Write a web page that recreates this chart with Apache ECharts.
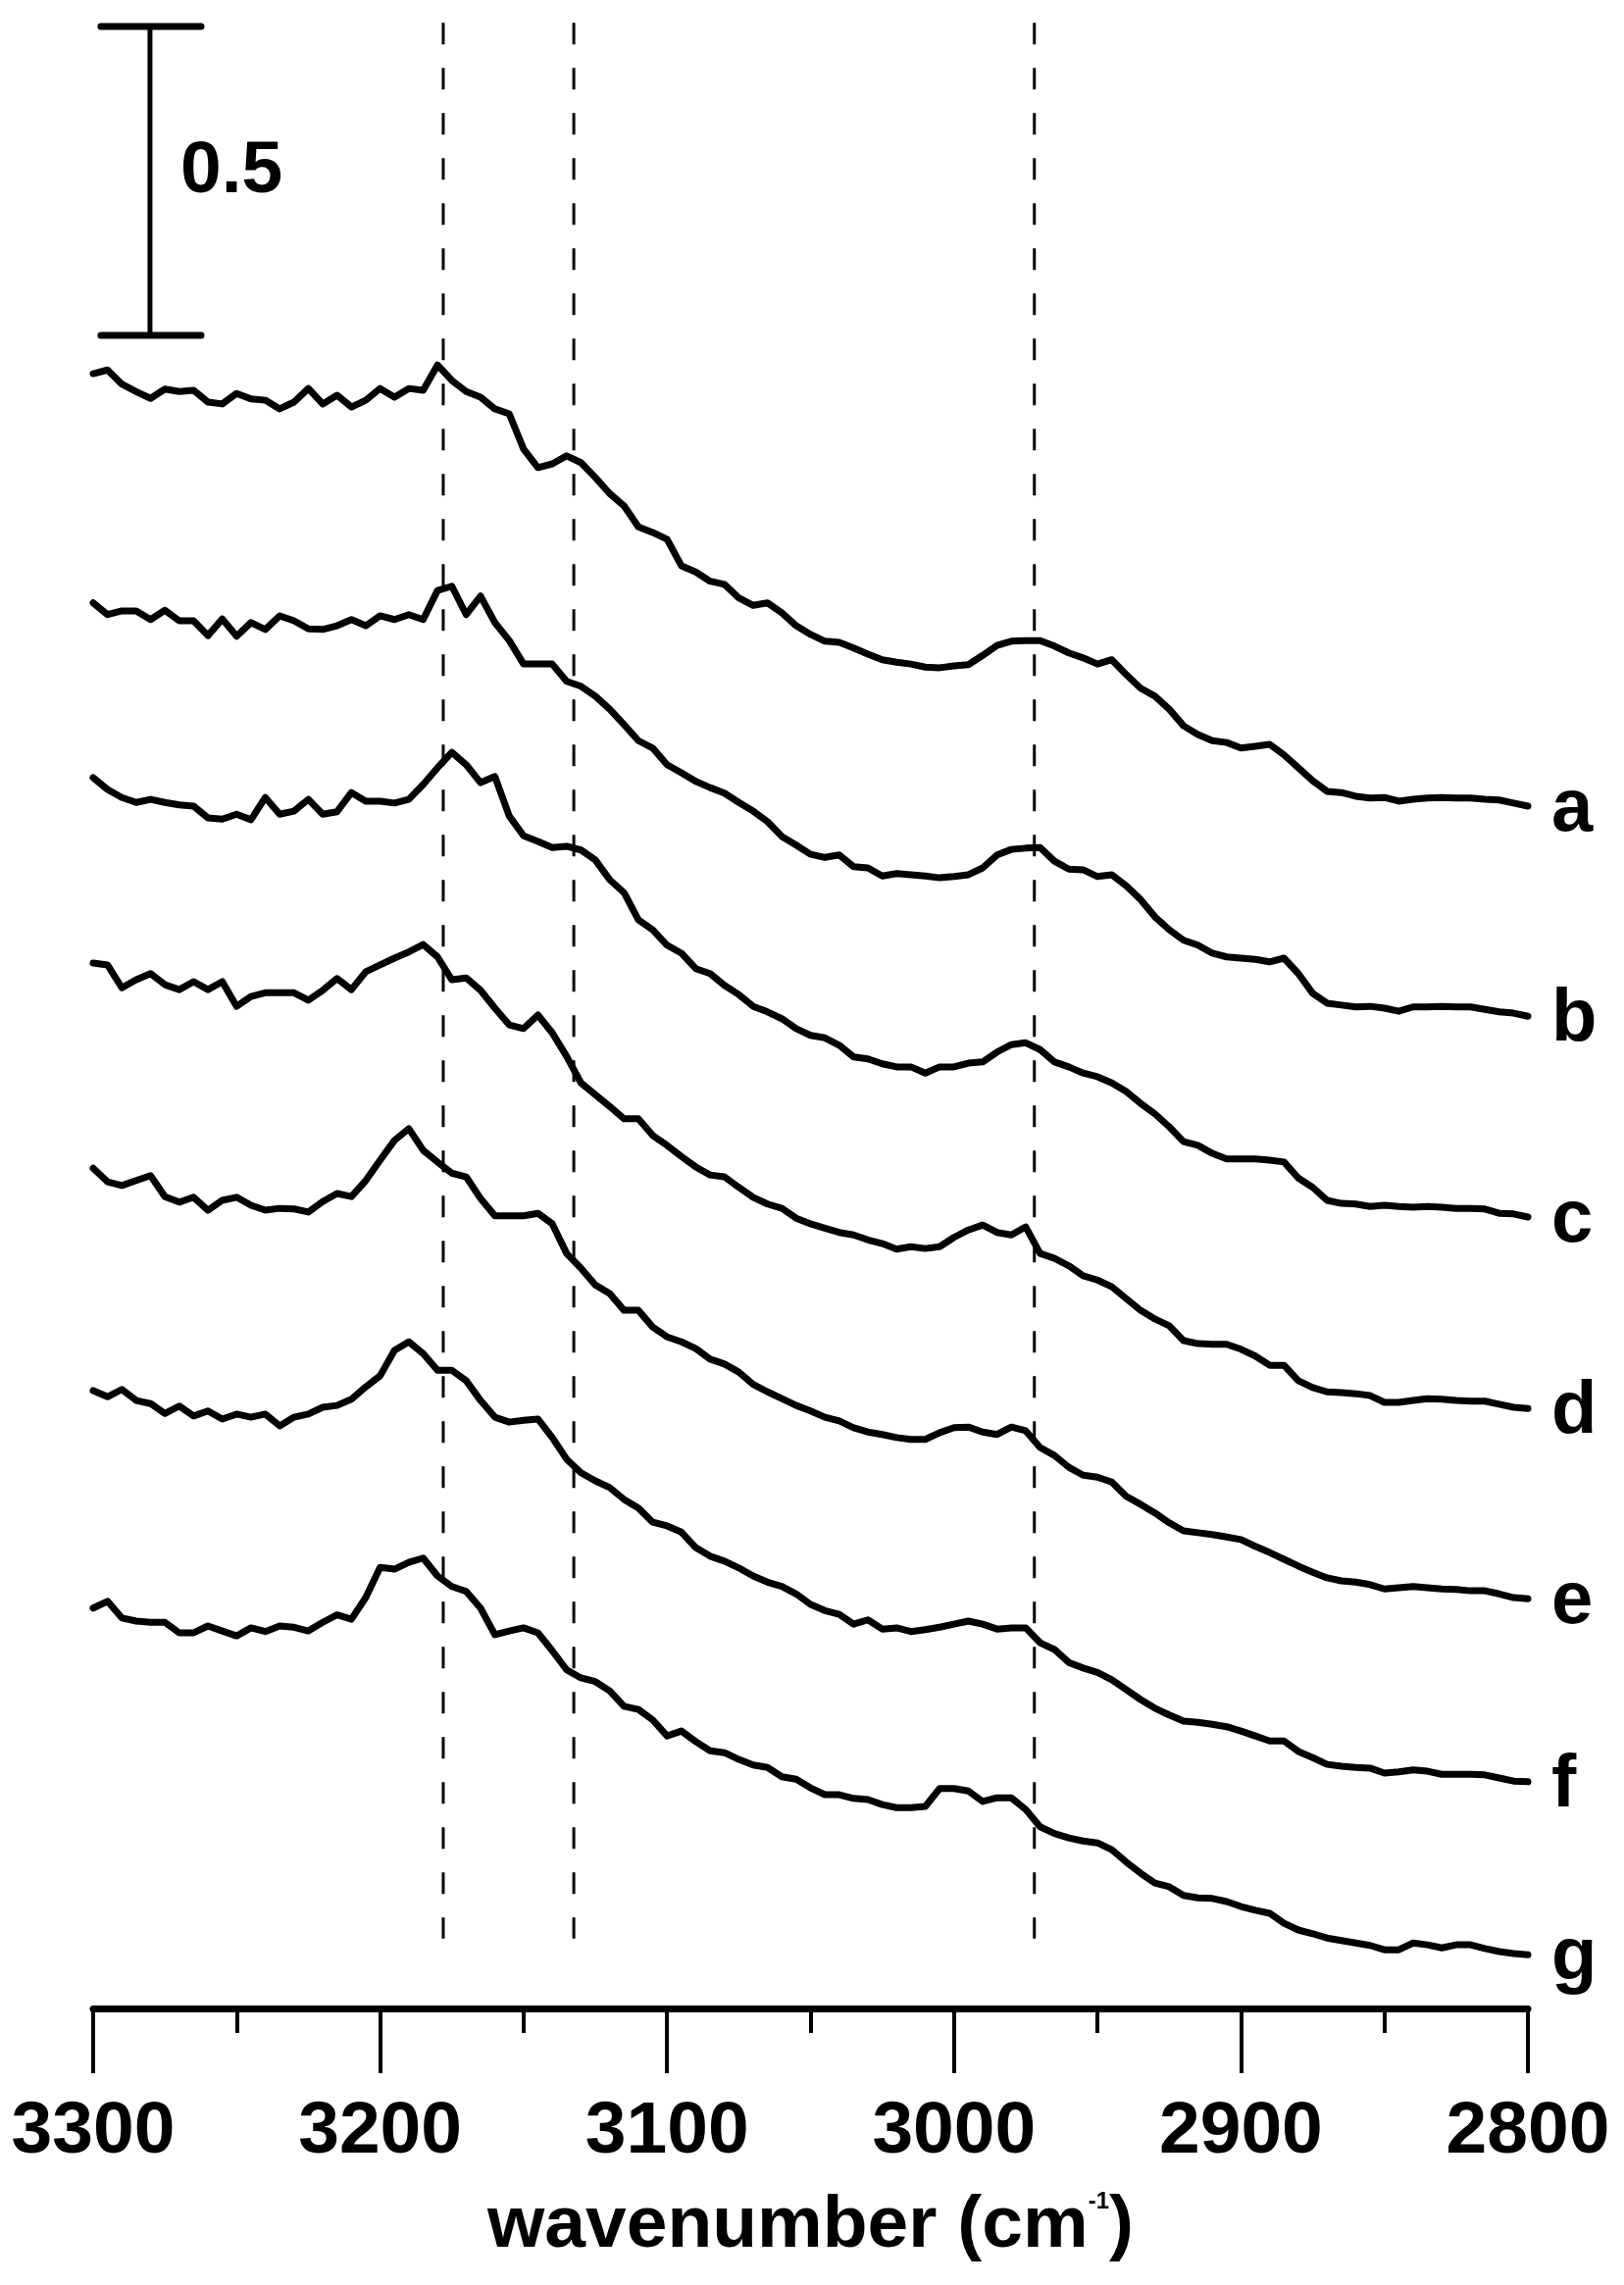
<!DOCTYPE html>
<html>
<head>
<meta charset="utf-8">
<script src="https://cdn.jsdelivr.net/npm/echarts@6/dist/echarts.min.js"></script>
<style>
    html, body { margin: 0; padding: 0; background: #fff; }
    #chart { width: 1656px; height: 2330px; }
</style>
</head>
<body>
<div id="chart"></div>
<script>
// wavenumber grid (cm-1), shared by all traces
const wavenumber = [
    3300, 3295, 3290, 3285, 3280, 3275, 3270, 3265, 3260, 3255, 3250, 3245, 3240, 3235, 3230, 3225, 3220, 3215, 3210, 3205, 3200,
    3195, 3190, 3185, 3180, 3175, 3170, 3165, 3160, 3155, 3150, 3145, 3140, 3135, 3130, 3125, 3120, 3115, 3110, 3105, 3100,
    3095, 3090, 3085, 3080, 3075, 3070, 3065, 3060, 3055, 3050, 3045, 3040, 3035, 3030, 3025, 3020, 3015, 3010, 3005, 3000,
    2995, 2990, 2985, 2980, 2975, 2970, 2965, 2960, 2955, 2950, 2945, 2940, 2935, 2930, 2925, 2920, 2915, 2910, 2905, 2900,
    2895, 2890, 2885, 2880, 2875, 2870, 2865, 2860, 2855, 2850, 2845, 2840, 2835, 2830, 2825, 2820, 2815, 2810, 2805, 2800,
]

// absorbance of each (offset) trace
const traceA = [
    2.646, 2.652, 2.629, 2.617, 2.606, 2.621, 2.617, 2.619, 2.600, 2.597, 2.614, 2.605, 2.603, 2.589, 2.600, 2.622, 2.597, 2.611, 2.592, 2.603, 2.622,
    2.608, 2.622, 2.619, 2.660, 2.635, 2.617, 2.608, 2.589, 2.581, 2.524, 2.494, 2.500, 2.513, 2.502, 2.478, 2.452, 2.432, 2.398, 2.389, 2.378,
    2.335, 2.325, 2.310, 2.305, 2.283, 2.271, 2.275, 2.259, 2.238, 2.224, 2.213, 2.211, 2.202, 2.192, 2.183, 2.179, 2.176, 2.171, 2.170, 2.173,
    2.175, 2.190, 2.206, 2.213, 2.214, 2.214, 2.205, 2.194, 2.186, 2.176, 2.183, 2.159, 2.137, 2.124, 2.103, 2.076, 2.062, 2.052, 2.049, 2.040,
    2.043, 2.046, 2.029, 2.008, 1.987, 1.970, 1.968, 1.962, 1.959, 1.960, 1.954, 1.957, 1.959, 1.960, 1.959, 1.959, 1.957, 1.956, 1.951, 1.946,
]
const traceB = [
    2.275, 2.256, 2.262, 2.262, 2.248, 2.263, 2.246, 2.246, 2.222, 2.249, 2.221, 2.243, 2.232, 2.254, 2.246, 2.233, 2.232, 2.238, 2.248, 2.238, 2.254,
    2.248, 2.256, 2.248, 2.295, 2.302, 2.256, 2.286, 2.243, 2.214, 2.176, 2.176, 2.176, 2.148, 2.140, 2.124, 2.103, 2.078, 2.052, 2.040, 2.013,
    2.000, 1.986, 1.976, 1.967, 1.952, 1.938, 1.921, 1.897, 1.883, 1.868, 1.863, 1.867, 1.848, 1.846, 1.833, 1.837, 1.835, 1.833, 1.830, 1.832,
    1.835, 1.846, 1.867, 1.876, 1.878, 1.879, 1.857, 1.844, 1.843, 1.832, 1.835, 1.817, 1.795, 1.767, 1.746, 1.729, 1.721, 1.708, 1.702, 1.700,
    1.698, 1.694, 1.700, 1.675, 1.643, 1.627, 1.624, 1.621, 1.622, 1.619, 1.614, 1.621, 1.621, 1.622, 1.621, 1.621, 1.617, 1.613, 1.611, 1.606,
]
const traceC = [
    1.992, 1.973, 1.960, 1.952, 1.957, 1.952, 1.948, 1.946, 1.927, 1.925, 1.933, 1.924, 1.960, 1.933, 1.938, 1.957, 1.933, 1.937, 1.968, 1.954, 1.954,
    1.951, 1.957, 1.981, 2.008, 2.033, 2.013, 1.984, 1.994, 1.930, 1.898, 1.889, 1.879, 1.881, 1.875, 1.859, 1.827, 1.806, 1.762, 1.746, 1.721,
    1.708, 1.683, 1.675, 1.656, 1.641, 1.622, 1.613, 1.602, 1.586, 1.575, 1.571, 1.559, 1.540, 1.537, 1.529, 1.524, 1.524, 1.514, 1.524, 1.524,
    1.530, 1.532, 1.548, 1.560, 1.563, 1.552, 1.532, 1.524, 1.514, 1.508, 1.498, 1.484, 1.465, 1.448, 1.427, 1.403, 1.397, 1.384, 1.375, 1.375,
    1.375, 1.373, 1.370, 1.344, 1.329, 1.308, 1.303, 1.302, 1.298, 1.300, 1.298, 1.297, 1.298, 1.297, 1.295, 1.295, 1.294, 1.287, 1.286, 1.281,
]
const traceD = [
    1.692, 1.689, 1.652, 1.665, 1.675, 1.657, 1.649, 1.662, 1.649, 1.662, 1.622, 1.638, 1.644, 1.644, 1.644, 1.632, 1.648, 1.667, 1.649, 1.678, 1.689,
    1.700, 1.710, 1.722, 1.702, 1.665, 1.668, 1.648, 1.619, 1.592, 1.586, 1.608, 1.579, 1.541, 1.498, 1.479, 1.460, 1.440, 1.440, 1.413, 1.397,
    1.379, 1.362, 1.349, 1.346, 1.329, 1.313, 1.302, 1.295, 1.279, 1.270, 1.263, 1.256, 1.252, 1.244, 1.238, 1.229, 1.233, 1.230, 1.233, 1.248,
    1.260, 1.268, 1.256, 1.252, 1.265, 1.222, 1.214, 1.202, 1.186, 1.179, 1.168, 1.149, 1.130, 1.116, 1.105, 1.081, 1.076, 1.075, 1.075, 1.067,
    1.056, 1.041, 1.041, 1.016, 1.005, 0.998, 0.997, 0.995, 0.992, 0.981, 0.981, 0.984, 0.987, 0.986, 0.984, 0.983, 0.983, 0.978, 0.973, 0.971,
]
const traceE = [
    1.360, 1.338, 1.332, 1.340, 1.348, 1.314, 1.305, 1.313, 1.292, 1.308, 1.313, 1.300, 1.292, 1.295, 1.294, 1.289, 1.306, 1.319, 1.314, 1.340, 1.373,
    1.405, 1.424, 1.389, 1.370, 1.352, 1.346, 1.311, 1.283, 1.283, 1.283, 1.287, 1.270, 1.222, 1.198, 1.171, 1.157, 1.130, 1.130, 1.103, 1.087,
    1.079, 1.068, 1.051, 1.043, 1.030, 1.010, 0.998, 0.987, 0.976, 0.967, 0.957, 0.951, 0.940, 0.933, 0.929, 0.924, 0.921, 0.921, 0.932, 0.940,
    0.941, 0.933, 0.929, 0.941, 0.935, 0.908, 0.895, 0.876, 0.863, 0.860, 0.852, 0.829, 0.816, 0.802, 0.786, 0.773, 0.770, 0.767, 0.763, 0.759,
    0.748, 0.738, 0.727, 0.716, 0.706, 0.697, 0.692, 0.690, 0.686, 0.679, 0.681, 0.683, 0.681, 0.679, 0.678, 0.676, 0.676, 0.671, 0.665, 0.663,
]
const traceF = [
    1.000, 0.990, 1.002, 0.984, 0.979, 0.963, 0.975, 0.959, 0.967, 0.954, 0.962, 0.957, 0.962, 0.943, 0.957, 0.962, 0.973, 0.976, 0.986, 1.006, 1.024,
    1.065, 1.079, 1.060, 1.033, 1.033, 1.016, 0.984, 0.957, 0.949, 0.952, 0.954, 0.924, 0.889, 0.867, 0.854, 0.843, 0.824, 0.810, 0.787, 0.781,
    0.771, 0.746, 0.732, 0.724, 0.713, 0.700, 0.690, 0.683, 0.671, 0.654, 0.644, 0.638, 0.622, 0.629, 0.614, 0.616, 0.610, 0.613, 0.617, 0.622,
    0.627, 0.622, 0.614, 0.616, 0.616, 0.592, 0.581, 0.560, 0.551, 0.544, 0.532, 0.516, 0.500, 0.486, 0.475, 0.465, 0.463, 0.460, 0.456, 0.449,
    0.441, 0.433, 0.433, 0.416, 0.406, 0.395, 0.392, 0.390, 0.389, 0.381, 0.383, 0.386, 0.384, 0.379, 0.379, 0.379, 0.378, 0.373, 0.368, 0.367,
]
const traceG = [
    0.648, 0.659, 0.632, 0.627, 0.625, 0.625, 0.608, 0.608, 0.619, 0.611, 0.603, 0.616, 0.610, 0.619, 0.617, 0.611, 0.625, 0.637, 0.630, 0.665, 0.714,
    0.711, 0.722, 0.729, 0.700, 0.683, 0.675, 0.648, 0.605, 0.611, 0.616, 0.608, 0.579, 0.548, 0.535, 0.529, 0.514, 0.489, 0.484, 0.467, 0.441,
    0.449, 0.432, 0.417, 0.414, 0.403, 0.394, 0.390, 0.375, 0.371, 0.357, 0.346, 0.346, 0.340, 0.338, 0.330, 0.325, 0.325, 0.327, 0.356, 0.356,
    0.352, 0.335, 0.341, 0.341, 0.322, 0.294, 0.283, 0.276, 0.271, 0.268, 0.257, 0.237, 0.219, 0.203, 0.197, 0.183, 0.179, 0.178, 0.173, 0.165,
    0.159, 0.154, 0.138, 0.127, 0.121, 0.114, 0.110, 0.106, 0.102, 0.095, 0.095, 0.106, 0.103, 0.098, 0.103, 0.103, 0.097, 0.092, 0.089, 0.087,
]

const traceNames = ['a', 'b', 'c', 'd', 'e', 'f', 'g']
const traces = [traceA, traceB, traceC, traceD, traceE, traceF, traceG]

// dashed guide lines (cm-1) and their vertical span (absorbance)
const guideLines = [3178, 3132.5, 2972]
const guideSpan = [3.214, 0.113]

// 0.5 absorbance scale bar
const scaleBarX = 3280.2
const scaleBarY = [2.708, 3.208]
const scaleBarCap = [3297.3, 3262.4]

const fontFamily = '"Liberation Sans", Arial, Helvetica, sans-serif'
const black = '#000'

let series = traces.map((trace, i) => ({
    name: traceNames[i],
    type: 'line',
    showSymbol: false,
    symbol: 'none',
    data: wavenumber.map((w, k) => [w, trace[k]]),
    lineStyle: { color: black, width: 7, join: 'round', cap: 'round' },
    z: 3,
}))

guideLines.forEach(w => {
    series.push({
        type: 'line',
        symbol: 'none',
        data: [[w, guideSpan[0]], [w, guideSpan[1]]],
        lineStyle: { color: black, width: 3, type: [22, 24] },
        z: 2,
    })
})

// scale bar: vertical stroke plus two caps
series.push({
    type: 'line',
    symbol: 'none',
    data: [[scaleBarX, scaleBarY[0]], [scaleBarX, scaleBarY[1]]],
    lineStyle: { color: black, width: 5 },
})
scaleBarY.forEach(y => {
    series.push({
        type: 'line',
        symbol: 'none',
        data: [[scaleBarCap[0], y], [scaleBarCap[1], y]],
        lineStyle: { color: black, width: 7, cap: 'round' },
    })
})

// trace letters at the right end of each trace
series.push({
    type: 'scatter',
    symbolSize: 0,
    itemStyle: { opacity: 1 },
    data: traces.map((trace, i) => ({
        name: traceNames[i],
        value: [wavenumber[wavenumber.length - 1], trace[trace.length - 1]],
    })),
    label: {
        show: true,
        position: 'right',
        distance: 24,
        offset: [0, 4],
        formatter: '{b}',
        color: black,
        opacity: 1,
        fontSize: 76,
        fontWeight: 'bold',
        fontFamily: fontFamily,
    },
})

let option = {
    animation: false,
    backgroundColor: '#fff',
    grid: {
        left: 95,
        right: 98,
        top: 0,
        bottom: 282,
        containLabel: false,
        outerBoundsMode: 'none',
    },
    xAxis: {
        type: 'value',
        min: 2800,
        max: 3300,
        interval: 100,
        inverse: true,
        axisLine: { lineStyle: { color: black, width: 7 } },
        axisTick: { length: 66, lineStyle: { color: black, width: 4 } },
        minorTick: { show: true, splitNumber: 2, length: 25, lineStyle: { color: black, width: 4 } },
        splitLine: { show: false },
        minorSplitLine: { show: false },
        axisLabel: {
            margin: 89,
            color: black,
            fontSize: 75,
            fontWeight: 'bold',
            fontFamily: fontFamily,
            formatter: value => String(value),
        },
        name: 'wavenumber (cm{sup|-1})',
        nameLocation: 'middle',
        nameGap: 185,
        nameTextStyle: {
            color: black,
            fontSize: 75,
            fontWeight: 'bold',
            fontFamily: fontFamily,
            rich: {
                sup: {
                    fontSize: 24,
                    fontWeight: 'bold',
                    fontFamily: fontFamily,
                    color: black,
                    verticalAlign: 'top',
                },
            },
        },
    },
    yAxis: {
        type: 'value',
        min: 0,
        max: 3.2508,
        show: false,
    },
    graphic: [
        {
            type: 'text',
            x: 184,
            y: 175,
            style: {
                text: '0.5',
                fill: black,
                fontSize: 75,
                fontWeight: 'bold',
                fontFamily: fontFamily,
                verticalAlign: 'middle',
            },
        },
    ],
    series: series,
}

let myChart = echarts.init(document.getElementById('chart'))
myChart.setOption(option, true)
</script>
</body>
</html>
